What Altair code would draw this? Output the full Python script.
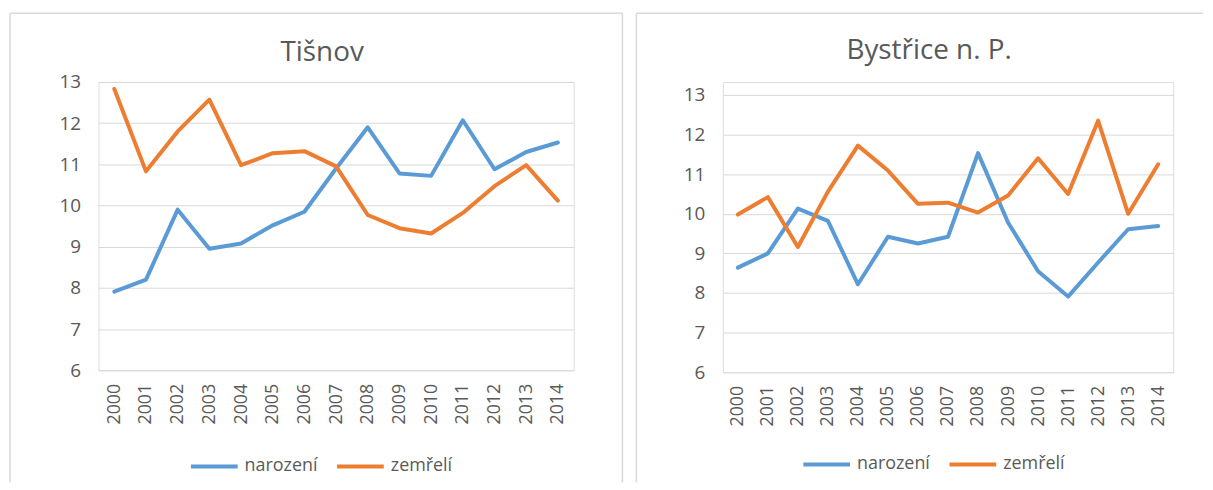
import altair as alt
import pandas as pd

years = ["2000", "2001", "2002", "2003", "2004", "2005", "2006", "2007",
         "2008", "2009", "2010", "2011", "2012", "2013", "2014"]
series_names = ["narození", "zemřelí"]
colors = ["#5B9BD5", "#ED7D31"]

tisnov_narozeni = [7.91, 8.20, 9.90, 8.95, 9.08, 9.52, 9.85, 10.90, 11.90, 10.78,
                   10.72, 12.07, 10.88, 11.30, 11.53]
tisnov_zemreli = [12.83, 10.83, 11.80, 12.57, 10.98, 11.27, 11.32, 10.95, 9.77, 9.45,
                  9.32, 9.82, 10.47, 10.98, 10.12]
bystrice_narozeni = [8.64, 9.00, 10.13, 9.82, 8.22, 9.42, 9.25, 9.42, 11.53, 9.78,
                     8.55, 7.91, 8.77, 9.61, 9.69]
bystrice_zemreli = [9.98, 10.42, 9.16, 10.56, 11.72, 11.09, 10.25, 10.28, 10.03, 10.46,
                    11.40, 10.50, 12.35, 10.00, 11.25]
y_ticks = [6, 7, 8, 9, 10, 11, 12, 13]

FONT = "Open Sans"
GRAY = "#595959"
GRID = "#d9d9d9"


def make_df(a, b):
    rows = []
    for name, vals in zip(series_names, [a, b]):
        for yr, v in zip(years, vals):
            rows.append({"year": yr, "series": name, "value": v})
    return pd.DataFrame(rows)


def frame_rule(x, x2, y, y2):
    return alt.Chart(alt.Data(values=[{"k": 1}])).mark_rule(
        stroke=GRID, strokeWidth=1.5
    ).encode(x=alt.value(x), x2=alt.value(x2), y=alt.value(y), y2=alt.value(y2))


def panel(title, df, w, h, y_range, title_dx, title_offset, legend_x, legend_y,
          rules):
    lines = alt.Chart(df).mark_line(
        strokeWidth=4, strokeCap="round", strokeJoin="round"
    ).encode(
        x=alt.X("year:O", sort=years, title=None,
                axis=alt.Axis(labelAngle=270, labelFont=FONT, labelFontSize=18,
                              labelColor=GRAY, labelPadding=13, ticks=False,
                              domain=False, grid=False)),
        y=alt.Y("value:Q", title=None,
                scale=alt.Scale(domain=[6, 13], nice=False, zero=False,
                                range=y_range),
                axis=alt.Axis(values=y_ticks, labelFont=FONT, labelFontSize=19,
                              labelColor=GRAY, labelPadding=18, ticks=False,
                              domain=False, grid=True, gridColor=GRID,
                              gridWidth=1)),
        color=alt.Color("series:N",
                        scale=alt.Scale(domain=series_names, range=colors),
                        legend=alt.Legend(orient="none", legendX=legend_x,
                                          legendY=legend_y, direction="horizontal",
                                          title=None, symbolType="stroke",
                                          symbolSize=2209, symbolStrokeWidth=4,
                                          labelFont=FONT, labelFontSize=18,
                                          labelColor=GRAY, labelOffset=5,
                                          columnPadding=11)),
    )
    layers = [frame_rule(*r) for r in rules] + [lines]
    return alt.layer(*layers).properties(
        width=w, height=h,
        title=alt.TitleParams(title, font=FONT, fontSize=28, fontWeight="normal",
                              color=GRAY, anchor="middle", dx=title_dx,
                              baseline="alphabetic", offset=title_offset),
    )


BOTTOM = 403
left = panel("Tišnov", make_df(tisnov_narozeni, tisnov_zemreli), 478, 290,
             [290, 0], -14, -77, 91, 361,
             [(-89, 527, -69, -69), (-89, -89, -69, BOTTOM),
              (527, 527, -69, BOTTOM)])
right = panel("Bystřice n. P.", make_df(bystrice_narozeni, bystrice_zemreli), 453, 292,
              [292, 13], -19, -75, 79, 359,
              [(-87, 483, -69, -69), (-87, -87, -69, BOTTOM)])

chart = alt.hconcat(left, right, spacing=10).resolve_scale(
    color="independent", y="independent", x="independent"
).properties(
    padding={"left": 0, "top": 2, "right": 0, "bottom": 0}
).configure_view(stroke=None).configure(background="white")

chart.save("out.html", embed_options={"renderer": "svg", "actions": False})
